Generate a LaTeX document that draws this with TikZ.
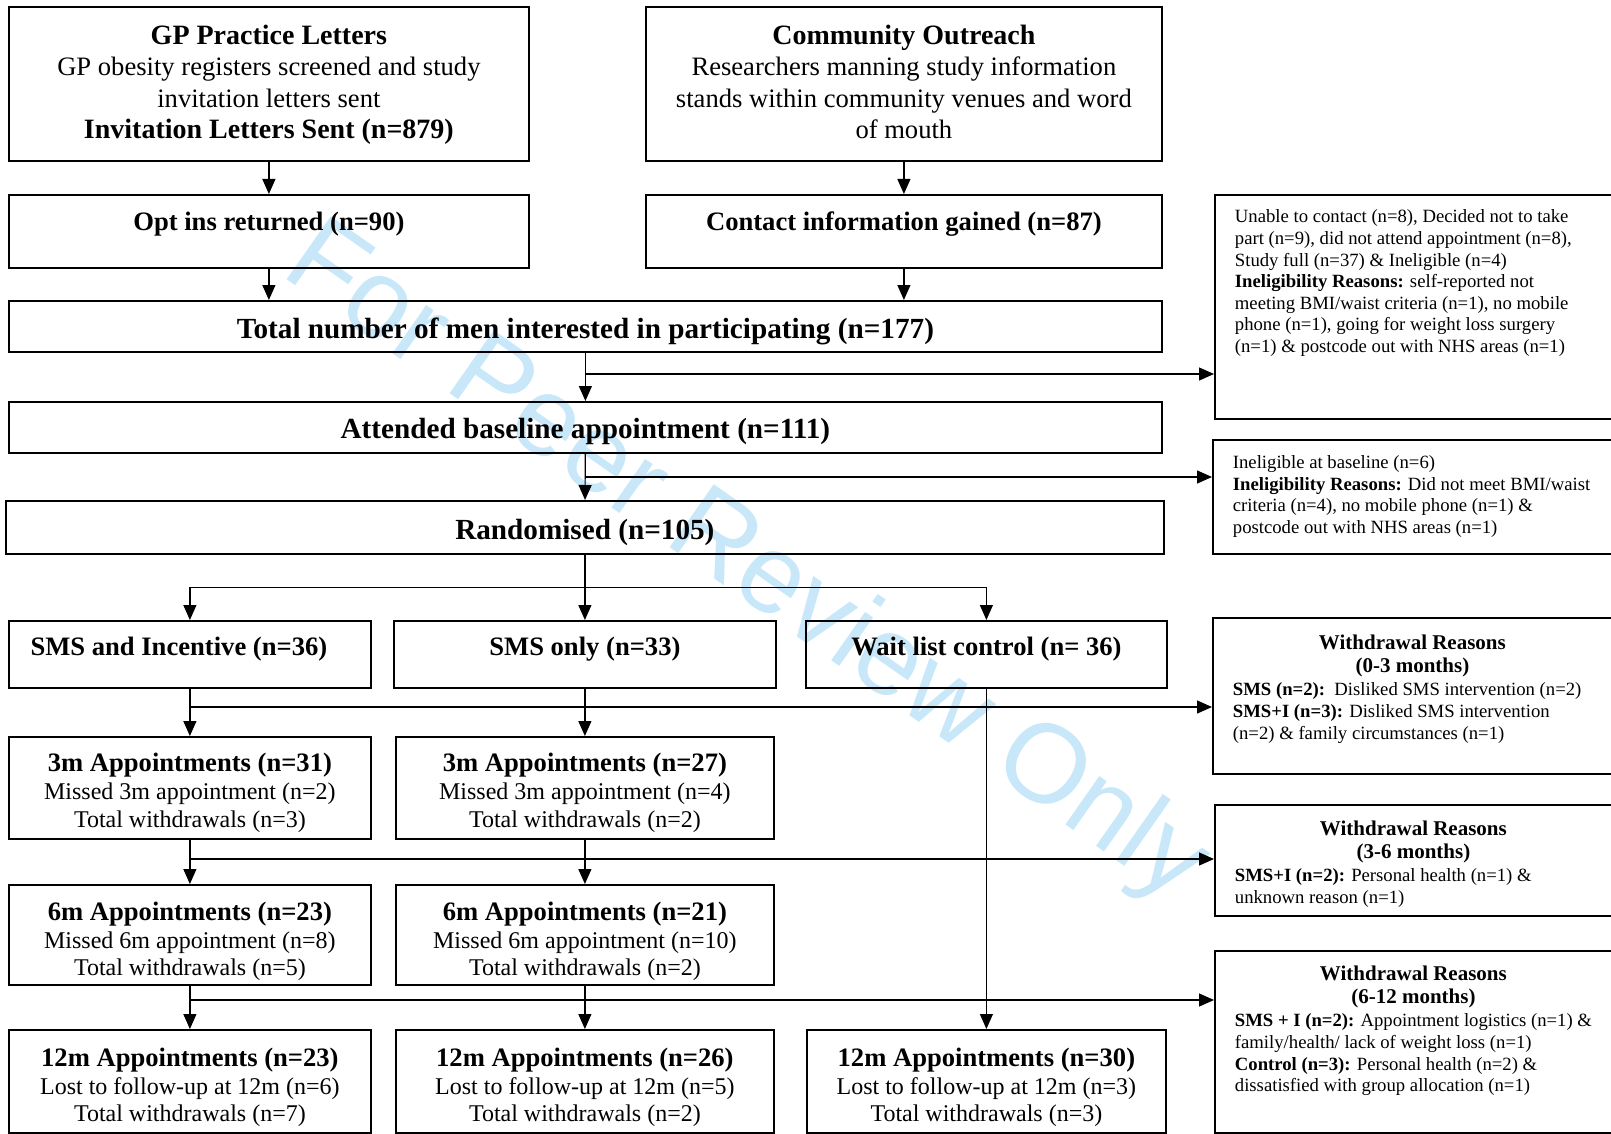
\documentclass[tikz,border=0pt]{standalone}
\usepackage{fontspec}
\setmainfont{Liberation Serif}
\newfontfamily\wmfont{Liberation Sans}
\usetikzlibrary{arrows.meta}

\definecolor{wmblue}{RGB}{200,232,250}

% box contents: width, height, first baseline, text
\newcommand{\bxtxt}[4]{\parbox[t][#2][t]{#1}{\centering\rule{0pt}{#3}#4}}
\newcommand{\notetxt}[4]{\parbox[t][#2][t]{#1}{\raggedright\leftskip=20pt\rule{0pt}{#3}#4}}
\newcommand{\notehead}[5]{\parbox[t][#2][t]{#1}{\centering\rule{0pt}{#3}%
  \fontsize{21}{23}\selectfont\bfseries #4\par\vspace{1.4pt}%
  \raggedright\leftskip=20pt\fontsize{18.7}{21.6}\selectfont\mdseries #5}}
\newcommand{\fbig}{\fontsize{29.2}{33}\selectfont\bfseries}
\newcommand{\fhead}{\fontsize{28}{31.5}\selectfont\bfseries}
\newcommand{\fmid}{\fontsize{26.6}{31.5}\selectfont}
\newcommand{\fapp}{\fontsize{24}{27.7}\selectfont}
\newcommand{\fnote}{\fontsize{18.7}{21.6}\selectfont}

\tikzset{
  stage/.style={draw,line width=1.8pt,inner sep=0pt,anchor=north west},
  flow/.style={->,line width=1.2pt},
}

\begin{document}
\begin{tikzpicture}[x=1pt,y=-1pt,>={Triangle[length=15pt,width=13pt]}]
  \useasboundingbox (0,0) rectangle (1611,1134);
  \node[text=wmblue,font=\wmfont\fontsize{112}{112}\selectfont,rotate=-35] (wmark) at (745,565) {For Peer Review Only};

  % recruitment
  \node[stage] (gp) at (8,6) {\bxtxt{520pt}{154pt}{37.4pt}{\fmid{\fhead GP Practice Letters}\\GP obesity registers screened and study\\invitation letters sent\\{\fhead Invitation Letters Sent (n=879)}}};
  \node[stage] (co) at (645,6) {\bxtxt{516pt}{154pt}{37.4pt}{\fmid{\fhead Community Outreach}\\Researchers manning study information\\stands within community venues and word\\of mouth}};
  \node[stage] (opt) at (8,194) {\bxtxt{520pt}{73pt}{36pt}{\fmid\bfseries Opt ins returned (n=90)}};
  \node[stage] (cont) at (645,194) {\bxtxt{516pt}{73pt}{36pt}{\fmid\bfseries Contact information gained (n=87)}};
  \node[stage] (total) at (8,300) {\bxtxt{1153pt}{51pt}{38pt}{\fbig Total number of men interested in participating (n=177)}};
  \node[stage] (att) at (8,401) {\bxtxt{1153pt}{51pt}{36.6pt}{\fbig Attended baseline appointment (n=111)}};
  \node[stage] (rand) at (5,500) {\bxtxt{1158pt}{53pt}{39pt}{\fbig Randomised (n=105)}};

  % exclusions
  \node[stage] (ex1) at (1214,194) {\notetxt{397pt}{224pt}{28pt}{\fnote Unable to contact (n=8), Decided not to take\\part (n=9), did not attend appointment (n=8),\\Study full (n=37) \& Ineligible (n=4)\\\textbf{Ineligibility Reasons:} self-reported not\\meeting BMI/waist criteria (n=1), no mobile\\phone (n=1), going for weight loss surgery\\(n=1) \& postcode out with NHS areas (n=1)}};
  \node[stage] (ex2) at (1212,439) {\notetxt{399pt}{114pt}{28.5pt}{\fnote Ineligible at baseline (n=6)\\\textbf{Ineligibility Reasons:} Did not meet BMI/waist\\criteria (n=4), no mobile phone (n=1) \&\\postcode out with NHS areas (n=1)}};

  % arms
  \node[stage] (smsi) at (8,620) {\bxtxt{362pt}{67pt}{34.5pt}{\fmid\bfseries SMS and Incentive (n=36)\hspace*{22pt}}};
  \node[stage] (sms) at (393,620) {\bxtxt{382pt}{67pt}{34.5pt}{\fmid\bfseries SMS only (n=33)}};
  \node[stage] (wl) at (805,620) {\bxtxt{361pt}{67pt}{34.5pt}{\fmid\bfseries Wait list control (n= 36)}};

  % follow-up
  \node[stage] (m3a) at (8,736) {\bxtxt{362pt}{102pt}{35pt}{\fapp{\fmid\bfseries 3m Appointments (n=31)}\\Missed 3m appointment (n=2)\\Total withdrawals (n=3)}};
  \node[stage] (m3b) at (395,736) {\bxtxt{378pt}{102pt}{35pt}{\fapp{\fmid\bfseries 3m Appointments (n=27)}\\Missed 3m appointment (n=4)\\Total withdrawals (n=2)}};
  \node[stage] (m6a) at (8,884) {\bxtxt{362pt}{100pt}{35.6pt}{\fapp{\fmid\bfseries 6m Appointments (n=23)}\\Missed 6m appointment (n=8)\\Total withdrawals (n=5)}};
  \node[stage] (m6b) at (395,884) {\bxtxt{378pt}{100pt}{35.6pt}{\fapp{\fmid\bfseries 6m Appointments (n=21)}\\Missed 6m appointment (n=10)\\Total withdrawals (n=2)}};
  \node[stage] (m12a) at (8,1029) {\bxtxt{362pt}{103pt}{36.5pt}{\fapp{\fmid\bfseries 12m Appointments (n=23)}\\Lost to follow-up at 12m (n=6)\\Total withdrawals (n=7)}};
  \node[stage] (m12b) at (395,1029) {\bxtxt{378pt}{103pt}{36.5pt}{\fapp{\fmid\bfseries 12m Appointments (n=26)}\\Lost to follow-up at 12m (n=5)\\Total withdrawals (n=2)}};
  \node[stage] (m12c) at (806,1029) {\bxtxt{359pt}{103pt}{36.5pt}{\fapp{\fmid\bfseries 12m Appointments (n=30)}\\Lost to follow-up at 12m (n=3)\\Total withdrawals (n=3)}};

  % withdrawals
  \node[stage] (ex3) at (1212,617) {\notehead{399pt}{156pt}{32pt}{Withdrawal Reasons\\(0-3 months)}{\textbf{SMS (n=2):}\ \ Disliked SMS intervention (n=2)\\\textbf{SMS+I (n=3):} Disliked SMS intervention\\(n=2) \& family circumstances (n=1)}};
  \node[stage] (ex4) at (1214,804) {\notehead{397pt}{111pt}{31pt}{Withdrawal Reasons\\(3-6 months)}{\textbf{SMS+I (n=2):} Personal health (n=1) \&\\unknown reason (n=1)}};
  \node[stage] (ex5) at (1214,950) {\notehead{397pt}{182pt}{30pt}{Withdrawal Reasons\\(6-12 months)}{\textbf{SMS + I (n=2):} Appointment logistics (n=1) \&\\family/health/ lack of weight loss (n=1)\\\textbf{Control (n=3):} Personal health (n=2) \&\\dissatisfied with group allocation (n=1)}};

  % connectors
  \draw[flow] (gp) -- (opt);
  \draw[flow] (co) -- (cont);
  \draw[flow] (opt) -- (opt |- total.north);
  \draw[flow] (cont) -- (cont |- total.north);
  \draw[flow] (total) -- (att);
  \coordinate (b1) at (584.5,374);
  \draw[flow] (b1) -- (b1 -| ex1.west);
  \draw[flow] (att) -- (rand);
  \coordinate (b2) at (584.5,477);
  \draw[flow] (b2) -- (b2 -| ex2.west);
  \draw[flow] (rand) -- (sms);
  \coordinate (arms) at (584,587);
  \draw (arms -| smsi) -- (arms -| wl);
  \draw[flow] (arms -| smsi) -- (smsi);
  \draw[flow] (arms -| wl) -- (wl);
  \draw[flow] (smsi) -- (m3a);
  \draw[flow] (sms) -- (m3b);
  \coordinate (w1) at (189,707);
  \draw[flow] (w1) -- (w1 -| ex3.west);
  \draw[flow] (m3a) -- (m6a);
  \draw[flow] (m3b) -- (m6b);
  \coordinate (w2) at (189,859);
  \draw[flow] (w2) -- (w2 -| ex4.west);
  \draw[flow] (m6a) -- (m12a);
  \draw[flow] (m6b) -- (m12b);
  \draw[flow] (wl) -- (m12c);
  \coordinate (w3) at (189,1000);
  \draw[flow] (w3) -- (w3 -| ex5.west);
\end{tikzpicture}
\end{document}
